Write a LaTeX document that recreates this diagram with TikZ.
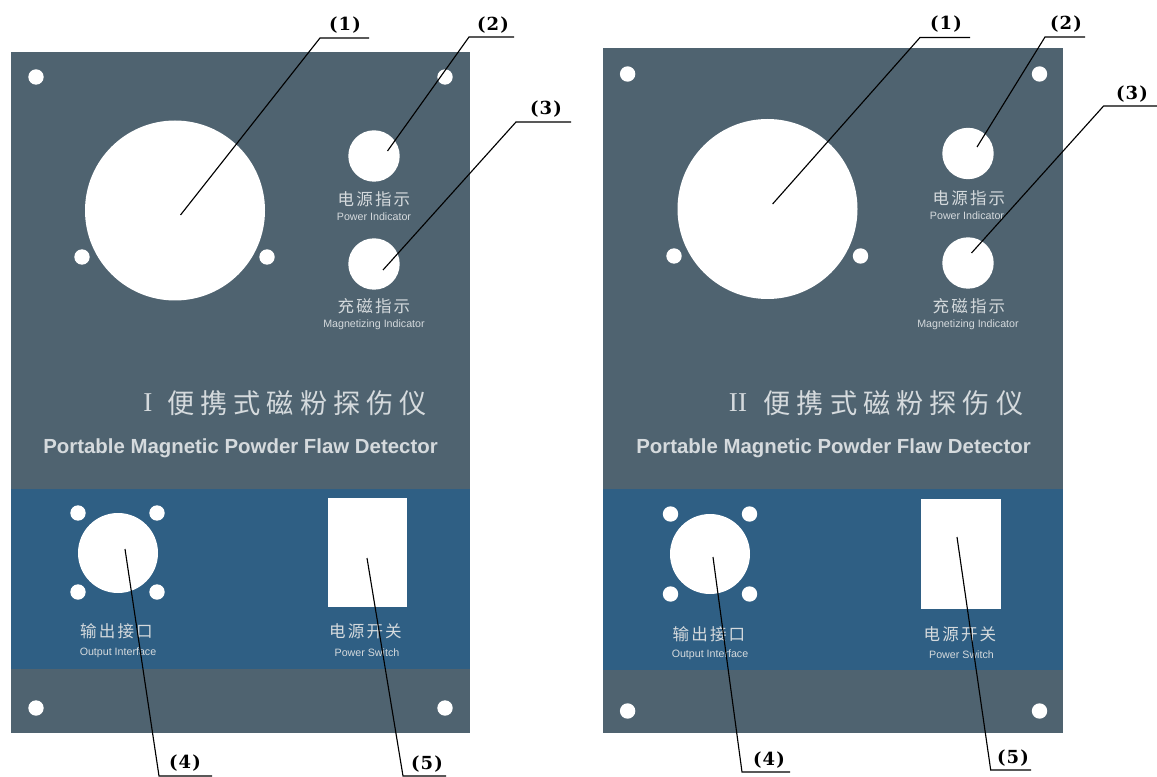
\documentclass[tikz,border=0pt]{standalone}
\usepackage{fontspec}
\setmainfont{Liberation Sans}
\newfontfamily\cjk{Noto Sans CJK SC}
\newfontfamily\lab{DejaVu Serif}
\newfontfamily\numer{Liberation Serif}
\definecolor{panelgray}{HTML}{4F6370}
\definecolor{panelblue}{HTML}{2F5F84}
\definecolor{txt}{HTML}{D5DADD}
\tikzset{x=0.75pt,y=-0.75pt,
 plate/.style={fill=panelgray,draw=none},
 band/.style={fill=panelblue,draw=none},
 hole/.style={fill=white,draw=none},
 lead/.style={draw=black,line width=0.85pt,line join=miter},
 num/.style={font=\lab\bfseries\fontsize{13.5}{14}\selectfont,inner sep=0pt,text=black},
 zh/.style={font=\cjk\fontsize{12.4}{13}\selectfont,text=txt,inner sep=0pt},
 ensm/.style={font=\fontsize{8}{9}\selectfont,text=txt,inner sep=0pt},
 title/.style={font=\cjk\fontsize{20.4}{21}\selectfont,text=txt,inner sep=0pt},
 entitle/.style={font=\fontsize{15.3}{16}\selectfont\bfseries,text=txt,inner sep=0pt}}
\newcommand{\numlab}[1]{(\kern0.9pt#1\kern0.9pt)}
\newcommand{\fourzh}[4]{#1\hspace{1.6pt}#2\hspace{1.6pt}#3\hspace{1.6pt}#4}
\newcommand{\devname}{便\hspace{4.5pt}携\hspace{4.5pt}式\hspace{4.5pt}磁\hspace{4.5pt}粉\hspace{4.5pt}探\hspace{4.5pt}伤\hspace{4.5pt}仪}
\begin{document}
\begin{tikzpicture}
\useasboundingbox (0,0) rectangle (1157,777);
% LEFT
\fill[plate] (11,52) rectangle (470,733);
\fill[band] (11,489) rectangle (470,669);
\fill[hole] (175,210.5) circle (90);
\foreach \p in {(36,77),(445,77),(82,257),(267,257),(36,708),(445,708),(78,513),(157,513),(78,592),(157,592)} \fill[hole] \p circle (7.7);
\fill[hole] (374,156) circle (25.7);
\fill[hole] (374,264) circle (25.7);
\fill[hole] (118,553) circle (40);
\fill[hole] (327.5,498) rectangle (406.5,607);
\node[zh] (a1) at (374,199.5) {\fourzh 电源指示};
\node[ensm] (a2) at (374,216.7) {Power Indicator};
\node[zh] (a3) at (374,306.7) {\fourzh 充磁指示};
\node[ensm] (a4) at (374,324.5) {Magnetizing Indicator};
\node[title] (a5) at (148,403) {\numer I};
\node[title,anchor=west] (a6) at (167,403) {\devname};
\node[entitle] (a7) at (240.5,448) {Portable Magnetic Powder Flaw Detector};
\node[zh] (a8) at (116.5,631.6) {\fourzh 输出接口};
\node[ensm] (a9) at (118,653) {Output Interface};
\node[zh] (a10) at (365.5,631.6) {\fourzh 电源开关};
\node[ensm] (a11) at (367,653) {Power Switch};
\coordinate (l1a) at (180.5,215); \coordinate (l1b) at (320,38); \coordinate (l1c) at (369,38);
\coordinate (l2a) at (387.5,151); \coordinate (l2b) at (469,37); \coordinate (l2c) at (514,37);
\coordinate (l3a) at (383,270); \coordinate (l3b) at (516,122); \coordinate (l3c) at (571,122);
\coordinate (l4a) at (125,549); \coordinate (l4b) at (159,776); \coordinate (l4c) at (212,776);
\coordinate (l5a) at (367,558); \coordinate (l5b) at (403,776); \coordinate (l5c) at (446,776);
\draw[lead] (l1a)--(l1b)--(l1c);
\draw[lead] (l2a)--(l2b)--(l2c);
\draw[lead] (l3a)--(l3b)--(l3c);
\draw[lead] (l4a)--(l4b)--(l4c);
\draw[lead] (l5a)--(l5b)--(l5c);
\node[num] (n1) at (345,25) {\numlab{1}};
\node[num] (n2) at (493,25) {\numlab{2}};
\node[num] (n3) at (546,109) {\numlab{3}};
\node[num] (n4) at (185,763) {\numlab{4}};
\node[num] (n5) at (427,764) {\numlab{5}};
% RIGHT
\fill[plate] (603,48) rectangle (1063,733);
\fill[band] (603,489) rectangle (1063,670);
\fill[hole] (767.5,209) circle (90);
\foreach \p in {(627.6,74),(1039.5,74),(674,256),(860.5,256),(627.6,711),(1039.5,711),(670.5,514),(749.5,514),(670.5,594),(749.5,594)} \fill[hole] \p circle (7.7);
\fill[hole] (968,153.5) circle (25.7);
\fill[hole] (968,263) circle (25.7);
\fill[hole] (710,554) circle (40);
\fill[hole] (921,499) rectangle (1001,609);
\node[zh] (b1) at (969,198) {\fourzh 电源指示};
\node[ensm] (b2) at (967,216) {Power Indicator};
\node[zh] (b3) at (969,306.7) {\fourzh 充磁指示};
\node[ensm] (b4) at (968,324.5) {Magnetizing Indicator};
\node[title] (b5) at (738,403) {\numer II};
\node[title,anchor=west] (b6) at (763.5,403) {\devname};
\node[entitle] (b7) at (833.5,448) {Portable Magnetic Powder Flaw Detector};
\node[zh] (b8) at (709,634) {\fourzh 输出接口};
\node[ensm] (b9) at (710,655) {Output Interface};
\node[zh] (b10) at (960,634) {\fourzh 电源开关};
\node[ensm] (b11) at (961.5,655) {Power Switch};
\coordinate (r1a) at (772.6,204); \coordinate (r1b) at (920,37.5); \coordinate (r1c) at (970,37.5);
\coordinate (r2a) at (977,147); \coordinate (r2b) at (1045,37); \coordinate (r2c) at (1085,37);
\coordinate (r3a) at (971.5,253); \coordinate (r3b) at (1103.6,106); \coordinate (r3c) at (1157,106);
\coordinate (r4a) at (713,557); \coordinate (r4b) at (742,772); \coordinate (r4c) at (790,772);
\coordinate (r5a) at (957,537); \coordinate (r5b) at (990.7,770); \coordinate (r5c) at (1031,770);
\draw[lead] (r1a)--(r1b)--(r1c);
\draw[lead] (r2a)--(r2b)--(r2c);
\draw[lead] (r3a)--(r3b)--(r3c);
\draw[lead] (r4a)--(r4b)--(r4c);
\draw[lead] (r5a)--(r5b)--(r5c);
\node[num] (m1) at (946,24) {\numlab{1}};
\node[num] (m2) at (1066,24) {\numlab{2}};
\node[num] (m3) at (1132,94) {\numlab{3}};
\node[num] (m4) at (769,760) {\numlab{4}};
\node[num] (m5) at (1013,758) {\numlab{5}};
\end{tikzpicture}
\end{document}
